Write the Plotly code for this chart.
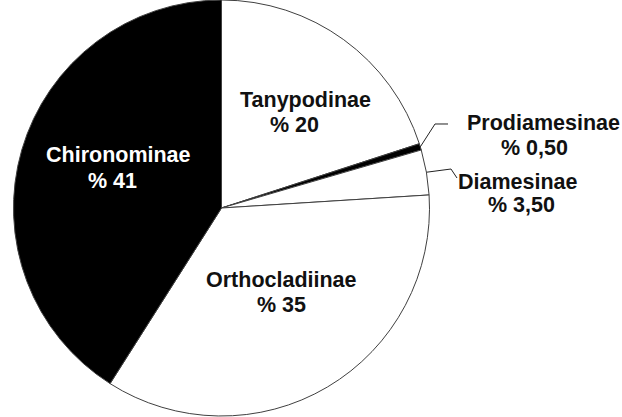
import math
import plotly.graph_objects as go

# ---- data ----
categories = ["Tanypodinae", "Prodiamesinae", "Diamesinae", "Orthocladiinae", "Chironominae"]
values = [20, 0.5, 3.5, 35, 41]
value_labels = ["20", "0,50", "3,50", "35", "41"]

# ---- styling / layout ----
W, H = 622, 417
slice_colors = ["#ffffff", "#000000", "#ffffff", "#ffffff", "#000000"]
text_colors = ["#111111", "#111111", "#111111", "#111111", "#ffffff"]
CX, CY, R = 221.5, 208, 208  # pie centre / radius in px
FONT_SIZE = 21.5
# label line centres (px): (x_name, y_name, x_value, y_value)
label_pos = {
    "Tanypodinae": (305, 100, 294, 125),
    "Prodiamesinae": (543, 123, 534, 148),
    "Diamesinae": (518, 182, 521, 205),
    "Orthocladiinae": (281, 280, 281, 305),
    "Chironominae": (118, 155, 112, 181),
}
# elbow points for leader lines of the outside labels (px)
leader_elbows = {
    "Prodiamesinae": [(435, 124), (448, 124)],
    "Diamesinae": [(451, 169), (457, 178)],
}


def px(x):
    return x / W


def py(y):
    return 1 - y / H


fig = go.Figure(
    go.Pie(
        labels=categories,
        values=values,
        sort=False,
        direction="clockwise",
        rotation=0,
        marker=dict(colors=slice_colors, line=dict(color="#404040", width=1)),
        textinfo="none",
        hoverinfo="label+percent",
        showlegend=False,
        domain=dict(x=[px(CX - R), px(CX + R)], y=[py(CY + R), py(CY - R)]),
    )
)

annotations = []
for cat, val_lab, tc in zip(categories, value_labels, text_colors):
    xn, yn, xv, yv = label_pos[cat]
    for txt, x, y in ((cat, xn, yn), (f"% {val_lab}", xv, yv)):
        annotations.append(
            dict(
                x=px(x), y=py(y), xref="paper", yref="paper",
                text=f"<b>{txt}</b>",
                showarrow=False, xanchor="center", yanchor="middle", align="center",
                font=dict(family="Liberation Sans, Arial, sans-serif", size=FONT_SIZE, color=tc),
            )
        )

shapes = []
total = sum(values)
cum = 0
for cat, v in zip(categories, values):
    mid = (cum + v / 2) / total * 2 * math.pi
    cum += v
    if cat in leader_elbows:
        sx = CX + R * math.sin(mid)
        sy = CY - R * math.cos(mid)
        pts = [(sx, sy)] + leader_elbows[cat]
        path = "M " + " L ".join(f"{px(a):.5f},{py(b):.5f}" for a, b in pts)
        shapes.append(dict(type="path", path=path, xref="paper", yref="paper",
                           line=dict(color="#222222", width=1)))

fig.update_layout(
    width=W, height=H,
    margin=dict(l=0, r=0, t=0, b=0),
    paper_bgcolor="white", plot_bgcolor="white",
    annotations=annotations, shapes=shapes,
)

fig.write_html(
    "out.html",
    config={"displayModeBar": False},
    post_script="document.body.style.margin='0';document.body.style.overflow='hidden';",
)
